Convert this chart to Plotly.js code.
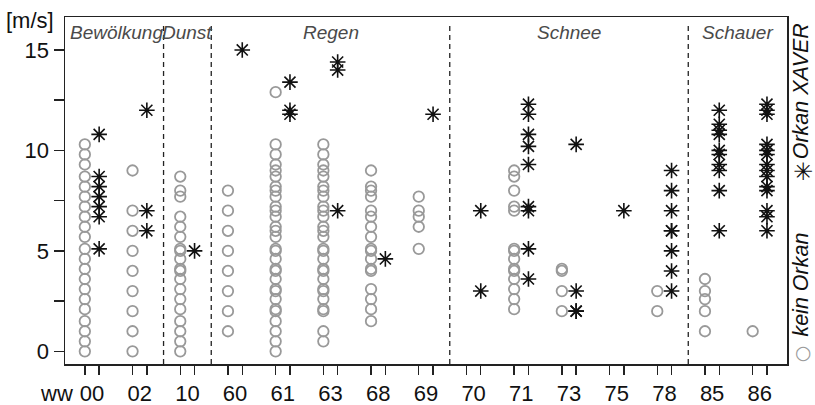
<!DOCTYPE html>
<html><head><meta charset="utf-8">
<script src="https://cdn.plot.ly/plotly-3.0.1.min.js"></script>
<style>html,body{margin:0;padding:0;background:#fff}#chart{width:815px;height:405px}</style>
</head><body><div id="chart"></div>
<script>
// ---- categories (ww codes) and groups ----
const categories = ['00','02','10','60','61','63','68','69','70','71','73','75','78','85','86'];
const groupNames = ['Bewölkung','Dunst','Regen','Schnee','Schauer'];
const groupLastIndex = [1, 2, 7, 12];   // last category index of each group (except the last)

// ---- kein Orkan (grey circles), wind speed in m/s ----
const c00 = [0,0.5,1.0,1.5,2.1,2.6,3.1,3.6,4.1,4.6,5.1,5.7,6.2,6.7,7.2,7.7,8.2,8.7,9.3,9.8,10.3];
const c02 = [0,1,2,3,4,5,6,7,9];
const c10 = [0,0.5,1.0,1.5,2.1,2.6,3.1,3.6,4.0,4.1,4.6,5.0,5.1,5.7,6.2,6.7,7.7,8.0,8.7];
const c60 = [1,2,3,4,5,6,7,8];
const c61 = [0,0.5,1.0,1.5,2.0,2.1,2.6,3.0,3.1,3.6,4.0,4.1,4.6,5.0,5.1,5.7,6.0,6.2,6.7,7.0,7.2,7.7,8.0,8.2,8.7,9.0,9.3,9.8,10.3,12.9];
const c63 = [0.5,1.0,2.0,2.1,2.6,3.0,3.1,3.6,4.0,4.1,4.6,5.0,5.1,5.7,6.0,6.2,6.7,7.0,7.2,7.7,8.0,8.2,8.7,9.0,9.3,9.8,10.3];
const c68 = [1.5,2.1,2.6,3.1,4.0,4.1,4.6,5.0,5.1,5.7,6.2,6.7,7.0,7.7,8.0,8.2,9.0];
const c69 = [5.1,6.2,6.7,7.0,7.7];
const c70 = [];
const c71 = [2.1,2.6,3.1,3.6,4.0,4.1,4.6,5.0,5.1,7.0,7.2,8.0,8.7,9.0];
const c73 = [2.0,3.0,4.0,4.1];
const c75 = [];
const c78 = [2.0,3.0];
const c85 = [1.0,2.0,2.6,3.0,3.6];
const c86 = [1.0];

// ---- Orkan XAVER (black asterisks) ----
const s00 = [5.1,6.7,7.2,7.7,8.2,8.7,10.8];
const s02 = [6,7,12];
const s10 = [5];
const s60 = [15];
const s61 = [11.8,12.0,13.4];
const s63 = [7.0,14.0,14.4];
const s68 = [4.6];
const s69 = [11.8];
const s70 = [3,7];
const s71 = [3.6,5.1,7.0,7.2,9.3,10.2,10.8,11.8,12.3];
const s73 = [2,2,3,10.3];
const s75 = [7];
const s78 = [3,4,5,6,6,7,8,9];
const s85 = [6,8,9,9.3,9.8,10,10.8,11,11.3,12];
const s86 = [6,6.7,7,8,8.2,8.7,9,9.3,9.8,10,10.3,11.8,12,12.3];

const yTickVals = [0,2.5,5,7.5,10,12.5,15];
const yTickText = ['0','','5','','10','','15'];

const keinOrkan = [c00,c02,c10,c60,c61,c63,c68,c69,c70,c71,c73,c75,c78,c85,c86];
const orkan = [s00,s02,s10,s60,s61,s63,s68,s69,s70,s71,s73,s75,s78,s85,s86];

const OFF = 0.15;
function flatten(lists, off){
  const xs = [], ys = [];
  lists.forEach((arr, i) => arr.forEach(v => { xs.push(i + off); ys.push(v); }));
  return {xs, ys};
}
const kc = flatten(keinOrkan, -OFF);
const ok = flatten(orkan, OFF);

const FONT = 'Liberation Sans, Arial, sans-serif';
const traces = [
  {type:'scatter', mode:'markers', x:kc.xs, y:kc.ys, name:'kein Orkan',
   marker:{symbol:'circle-open', size:10.5, color:'#999', line:{width:1.8, color:'#999'}}},
  {type:'scatter', mode:'markers', x:ok.xs, y:ok.ys, name:'Orkan XAVER',
   marker:{symbol:'asterisk-open', size:13, color:'#111', line:{width:1.6, color:'#111'}}}
];

const xMin = -0.566, xMax = 14.57;
const idx = categories.map((c,i)=>i);
const minorVals = [];
idx.forEach(i => { minorVals.push(i - OFF); minorVals.push(i + OFF); });

const bounds = groupLastIndex.map(i => i + 0.5);
const shapes = bounds.map(b => ({type:'line', xref:'x', yref:'paper', x0:b, x1:b, y0:0, y1:0.981,
  line:{color:'#222', width:1.3, dash:'5px,4px'}}));

const segEdges = [xMin, ...bounds, xMax];
const annotations = groupNames.map((g, k) => ({
  text:g, xref:'x', yref:'paper', x:(segEdges[k]+segEdges[k+1])/2 + (k===0 ? 0.04 : 0), y:0.955,
  showarrow:false, xanchor:'center', yanchor:'middle',
  font:{family:FONT, size:19, color:'#4a4a4a', style:'italic'}
}));
annotations.push({text:'[m/s]', xref:'paper', yref:'paper', x:-0.084, y:0.99, xanchor:'left', yanchor:'middle',
  showarrow:false, font:{family:FONT, size:22, color:'#111'}});
annotations.push({text:'ww', xref:'paper', yref:'paper', x:-0.038, y:-0.085, xanchor:'left', yanchor:'middle',
  showarrow:false, font:{family:FONT, size:22, color:'#111'}});
annotations.push({text:'Orkan XAVER', xref:'paper', yref:'paper', x:1.019, y:0.785, xanchor:'center', yanchor:'middle',
  textangle:-90, borderpad:0, showarrow:false, font:{family:FONT, size:21.5, color:'#111', style:'italic'}});
annotations.push({text:'✳', xref:'paper', yref:'paper', x:1.022, y:0.553, xanchor:'center', yanchor:'middle',
  showarrow:false, font:{family:'DejaVu Sans', size:24, color:'#111'}});
annotations.push({text:'kein Orkan', xref:'paper', yref:'paper', x:1.019, y:0.228, xanchor:'center', yanchor:'middle',
  textangle:-90, borderpad:0, showarrow:false, font:{family:FONT, size:21.5, color:'#111', style:'italic'}});
annotations.push({text:'○', xref:'paper', yref:'paper', x:1.036, y:0.035, xanchor:'right', yanchor:'middle',
  borderpad:0, showarrow:false, font:{family:'DejaVu Sans', size:19, color:'#999'}});

const layout = {
  width:815, height:405,
  margin:{l:65, r:28, t:17, b:41},
  paper_bgcolor:'#fff', plot_bgcolor:'#fff',
  showlegend:false,
  font:{family:FONT, size:22, color:'#111'},
  xaxis:{range:[xMin, xMax], tickvals:idx, ticktext:categories, ticks:'outside', ticklen:9,
    tickcolor:'rgba(0,0,0,0)', tickfont:{family:FONT, size:22, color:'#111'},
    minor:{tickvals:minorVals, ticks:'outside', ticklen:9, tickwidth:1.4, tickcolor:'#222', showgrid:false},
    showline:true, linecolor:'#222', linewidth:1.5, mirror:true, showgrid:false, zeroline:false},
  yaxis:{range:[-0.63, 16.64], tickvals:yTickVals, ticktext:yTickText, ticks:'outside', ticklen:10, tickwidth:1.4,
    tickcolor:'#222', tickfont:{family:FONT, size:22, color:'#111'},
    showline:true, linecolor:'#222', linewidth:1.5, mirror:true, showgrid:false, zeroline:false},
  shapes, annotations
};
Plotly.newPlot('chart', traces, layout, {staticPlot:true, displayModeBar:false});
</script>
</body></html>
